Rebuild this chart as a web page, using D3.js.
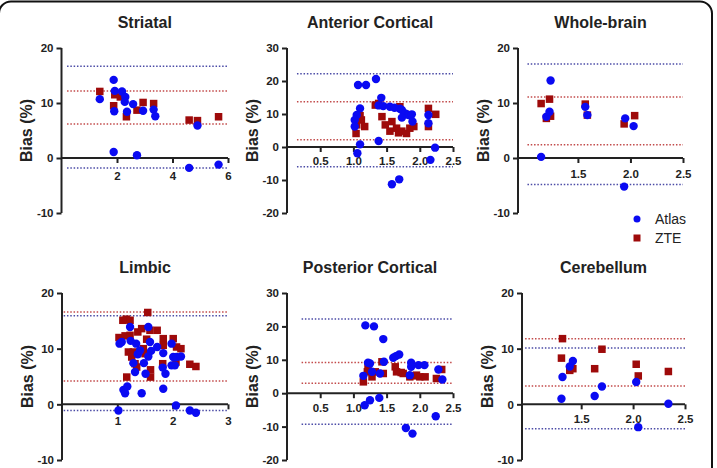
<!DOCTYPE html>
<html>
<head>
  <meta charset="utf-8">
  <script src="https://cdnjs.cloudflare.com/ajax/libs/d3/7.8.5/d3.min.js"></script>
  <style>
    body { margin: 0; background: #fff; }
    text { font-family: "Liberation Sans", Arial, sans-serif; }
  </style>
</head>
<body>
  <div id="chart"></div>

  <script>
    // values: [mean, bias %]
    const striatalAtlas = [[1.38,10.7],[1.88,14.2],[1.92,12.2],[1.9,8.5],[1.88,1.1],[2.18,12.1],[2.3,11.1],[2.28,10.2],[2.36,8.4],[2.58,9.8],[2.94,8.6],[2.72,0.5],[3.32,8.8],[3.38,7.6],[4.6,-1.8],[4.9,5.9],[5.66,-1.2]];
    const striatalZte = [[1.38,12.1],[1.88,9.5],[1.92,11.5],[2.12,11.1],[2.34,7.5],[2.72,8.7],[2.94,10.1],[3.32,9.9],[4.6,6.9],[4.9,6.8],[5.66,7.5]];

    const anteriorAtlas = [[1.07,18.8],[1.19,18.8],[1.34,20.6],[1.42,14.9],[1.10,11.7],[1.05,9.7],[1.02,8.2],[1.02,6.2],[1.38,1.8],[1.10,0.8],[1.06,-1.9],[1.38,12.6],[1.45,12.4],[1.55,12.2],[1.62,11.9],[1.7,11.6],[1.73,11.2],[1.78,10.2],[1.83,9.7],[1.88,9.9],[1.73,8.9],[1.89,7.7],[2.13,9.7],[2.13,7.2],[2.23,-0.2],[1.58,-11.3],[1.69,-9.8],[2.16,-3.9]];
    const anteriorZte = [[1.04,4.1],[1.05,6.7],[1.12,8.2],[1.17,6.2],[1.1,9.5],[1.33,12.7],[1.38,13.2],[1.43,9.2],[1.48,6.7],[1.55,4.8],[1.58,7.7],[1.65,5.7],[1.68,4.3],[1.73,4.8],[1.8,4.1],[1.85,5.7],[1.91,6.2],[1.7,12.2],[1.78,9.9],[2.13,11.7],[2.13,6.2],[2.24,9.9]];

    const wholeAtlas = [[1.15,0.2],[1.20,7.5],[1.23,8.4],[1.24,14.1],[1.57,9.3],[1.59,7.8],[1.94,-5.2],[1.95,7.2],[2.03,5.8]];
    const wholeZte = [[1.15,9.9],[1.20,7.2],[1.23,10.7],[1.24,7.6],[1.57,9.8],[1.59,7.8],[1.94,6.2],[2.04,7.7]];

    const limbicAtlas = [[1.02,-1.1],[1.04,10.9],[1.08,11.2],[1.11,2.6],[1.14,2.0],[1.18,3.2],[1.23,13.9],[1.24,11.4],[1.29,7.4],[1.32,5.8],[1.34,10.9],[1.37,9.0],[1.41,9.7],[1.44,2.0],[1.48,7.4],[1.51,5.5],[1.56,8.6],[1.56,13.9],[1.59,11.2],[1.61,9.6],[1.72,10.3],[1.83,9.2],[1.82,6.6],[1.83,2.8],[1.87,5.5],[1.98,10.9],[1.98,7.0],[2.01,8.5],[2.04,7.0],[2.07,8.5],[2.15,8.6],[2.06,-0.2],[2.31,-1.1],[2.42,-1.5]];
    const limbicZte = [[1.03,12.0],[1.10,15.1],[1.16,15.3],[1.23,15.1],[1.14,12.3],[1.23,12.4],[1.17,4.9],[1.2,9.4],[1.26,8.5],[1.29,9.4],[1.32,7.3],[1.35,6.7],[1.37,13.0],[1.44,13.6],[1.47,10.0],[1.50,9.1],[1.53,11.7],[1.55,16.5],[1.59,13.3],[1.60,6.2],[1.60,4.9],[1.72,13.3],[1.83,11.8],[1.83,10.6],[1.82,7.3],[2.01,11.8],[2.07,10.3],[2.15,10.0],[2.06,7.6],[2.31,7.2],[2.42,6.8]];

    const posteriorAtlas = [[1.15,5.2],[1.18,20.3],[1.31,20.0],[1.45,16.2],[1.22,9.1],[1.25,8.9],[1.28,6.4],[1.40,5.9],[1.46,9.4],[1.60,10.6],[1.64,11.1],[1.69,11.6],[1.87,9.1],[1.87,7.9],[1.85,5.4],[1.98,8.4],[2.07,8.4],[2.28,7.1],[2.34,4.1],[1.17,-3.6],[1.25,-2.1],[1.39,-1.4],[1.79,-10.4],[1.89,-12.1],[2.24,-6.9]];
    const posteriorZte = [[1.15,3.4],[1.21,6.4],[1.22,8.4],[1.28,4.9],[1.33,6.4],[1.43,9.4],[1.45,5.9],[1.63,7.9],[1.65,6.4],[1.72,6.2],[1.75,5.9],[1.85,4.9],[1.9,5.2],[1.95,5.4],[2.0,4.9],[2.08,4.9],[2.25,4.4],[2.33,7.1]];

    const cerebellumAtlas = [[1.31,1.0],[1.32,4.9],[1.39,6.8],[1.42,7.8],[1.63,1.5],[1.70,3.2],[2.03,4.0],[2.05,-4.1],[2.34,0.1]];
    const cerebellumZte = [[1.32,11.8],[1.31,8.3],[1.39,6.1],[1.42,6.4],[1.70,9.9],[1.63,6.4],[2.03,7.2],[2.05,5.1],[2.34,5.9]];

    // limits of agreement [upper, lower]
    const striatalLoA = { atlas: [16.7, -1.8], zte: [12.2, 6.2] };
    const anteriorLoA = { atlas: [22.2, -6.0], zte: [13.7, 2.2] };
    const wholeLoA = { atlas: [17.1, -4.8], zte: [11.1, 2.4] };
    const limbicLoA = { atlas: [15.9, -1.1], zte: [16.6, 4.2] };
    const posteriorLoA = { atlas: [22.2, -9.3], zte: [9.2, 3.0] };
    const cerebellumLoA = { atlas: [10.1, -4.4], zte: [11.8, 3.3] };

    const yTicksNarrow = [-10, 0, 10, 20];
    const yTicksWide = [-20, -10, 0, 10, 20, 30];
    const xTicksStriatal = [2, 4, 6];
    const xTicksLimbic = [1, 2, 3];
    const xTicksCortical = [0.5, 1, 1.5, 2, 2.5];
    const xTicksRegion = [1.5, 2, 2.5];

    const seriesNames = ['Atlas', 'ZTE'];

    const BLUE = '#0a0af2';
    const RED = '#9e0a0a';
    const BLUE_LINE = '#4b4ba6';
    const RED_LINE = '#c24a4a';

    const width = 717;
    const height = 468;

    const panels = [
      { title: 'Striatal', atlas: striatalAtlas, zte: striatalZte, loa: striatalLoA,
        xDomain: [0, 6], yDomain: [-10, 20], xTicks: xTicksStriatal, yTicks: yTicksNarrow, fmt: 'd',
        box: [61.5, 228, 48, 213], lineFrom: 0.2, pad: 9 },
      { title: 'Anterior Cortical', atlas: anteriorAtlas, zte: anteriorZte, loa: anteriorLoA,
        xDomain: [0, 2.5], yDomain: [-20, 30], xTicks: xTicksCortical, yTicks: yTicksWide, fmt: '.1f',
        box: [287, 453, 48, 213], lineFrom: 0.15, pad: 5 },
      { title: 'Whole-brain', atlas: wholeAtlas, zte: wholeZte, loa: wholeLoA,
        xDomain: [0.93, 2.5], yDomain: [-10, 20], xTicks: xTicksRegion, yTicks: yTicksNarrow, fmt: '.1f',
        box: [518, 683, 48, 213], lineFrom: 1.02, pad: 7 },
      { title: 'Limbic', atlas: limbicAtlas, zte: limbicZte, loa: limbicLoA,
        xDomain: [0, 3], yDomain: [-10, 20], xTicks: xTicksLimbic, yTicks: yTicksNarrow, fmt: 'd',
        box: [62, 228, 293, 460], lineFrom: 0.03, pad: 8 },
      { title: 'Posterior Cortical', atlas: posteriorAtlas, zte: posteriorZte, loa: posteriorLoA,
        xDomain: [0, 2.5], yDomain: [-20, 30], xTicks: xTicksCortical, yTicks: yTicksWide, fmt: '.1f',
        box: [287, 453, 293, 460], lineFrom: 0.22, pad: 6 },
      { title: 'Cerebellum', atlas: cerebellumAtlas, zte: cerebellumZte, loa: cerebellumLoA,
        xDomain: [0.93, 2.5], yDomain: [-10, 20], xTicks: xTicksRegion, yTicks: yTicksNarrow, fmt: '.1f',
        box: [522, 685, 293, 460], lineFrom: 0.96, pad: 6 }
    ];

    const svg = d3.select('#chart').append('svg')
      .attr('width', width)
      .attr('height', height);

    svg.append('rect')
      .attr('width', width).attr('height', height)
      .attr('fill', '#fff');

    // frame round the figure (bottom is cut off)
    svg.append('rect')
      .attr('x', -1).attr('y', 1.5)
      .attr('width', 713).attr('height', 520)
      .attr('rx', 12)
      .attr('fill', 'none')
      .attr('stroke', '#111')
      .attr('stroke-width', 2);

    panels.forEach(p => {
      const [left, right, top, bottom] = p.box;
      const x = d3.scaleLinear().domain(p.xDomain).range([left, right]);
      const y = d3.scaleLinear().domain(p.yDomain).range([bottom, top]);
      const g = svg.append('g');

      // limits of agreement
      [['zte', RED_LINE], ['atlas', BLUE_LINE]].forEach(([key, col]) => {
        p.loa[key].forEach(v => {
          g.append('line')
            .attr('x1', x(p.lineFrom)).attr('x2', x(p.xDomain[1]))
            .attr('y1', y(v)).attr('y2', y(v))
            .attr('stroke', col)
            .attr('stroke-width', 1.5)
            .attr('stroke-dasharray', '1.5,1.8');
        });
      });

      // y axis (plain hyphen on negatives, as in the figure)
      const yAxis = g.append('g')
        .attr('transform', `translate(${left},0)`)
        .call(d3.axisLeft(y).tickValues(p.yTicks).tickSize(5).tickPadding(3).tickFormat(d => String(d)));

      // x axis at zero
      const xAxis = g.append('g')
        .attr('transform', `translate(0,${y(0)})`)
        .call(d3.axisBottom(x).tickValues(p.xTicks).tickSize(5).tickPadding(p.pad).tickFormat(d3.format(p.fmt)));

      [yAxis, xAxis].forEach(a => {
        a.select('.domain').attr('stroke', '#222').attr('stroke-width', 2);
        a.selectAll('.tick line').attr('stroke', '#222').attr('stroke-width', 2);
        a.selectAll('.tick text')
          .attr('fill', '#222')
          .style('font-size', '11.5px')
          .style('font-weight', 'bold');
      });
      // plain axis lines, no outer ticks
      yAxis.select('.domain').attr('d', `M0,${bottom}V${top}`);
      xAxis.select('.domain').attr('d', `M${left},0H${right}`);

      // points: ZTE squares beneath Atlas circles
      const s = 7.5;
      g.selectAll('rect.zte').data(p.zte).enter().append('rect')
        .attr('class', 'zte')
        .attr('x', d => x(d[0]) - s / 2)
        .attr('y', d => y(d[1]) - s / 2)
        .attr('width', s).attr('height', s)
        .attr('fill', RED);

      g.selectAll('circle.atlas').data(p.atlas).enter().append('circle')
        .attr('class', 'atlas')
        .attr('cx', d => x(d[0]))
        .attr('cy', d => y(d[1]))
        .attr('r', 4.2)
        .attr('fill', BLUE);

      // title
      g.append('text')
        .attr('x', (left + right) / 2)
        .attr('y', top - 20)
        .attr('text-anchor', 'middle')
        .style('font-size', '16px')
        .style('font-weight', 'bold')
        .attr('fill', '#222')
        .text(p.title);

      // y label
      g.append('text')
        .attr('transform', `translate(${left - 35},${(top + bottom) / 2}) rotate(-90)`)
        .attr('text-anchor', 'middle')
        .attr('dy', '0.35em')
        .style('font-size', '16px')
        .style('font-weight', 'bold')
        .attr('fill', '#222')
        .text('Bias (%)');
    });

    // legend
    const legend = svg.append('g').attr('transform', 'translate(637,219)');
    seriesNames.forEach((name, i) => {
      const row = legend.append('g').attr('transform', `translate(0,${i * 19})`);
      if (i === 0) {
        row.append('circle').attr('r', 3.5).attr('fill', BLUE);
      } else {
        row.append('rect').attr('x', -3.5).attr('y', -3.5).attr('width', 7).attr('height', 7).attr('fill', RED);
      }
      row.append('text')
        .attr('x', 18)
        .attr('dy', '0.35em')
        .style('font-size', '14px')
        .attr('fill', '#222')
        .text(name);
    });
  </script>
</body>
</html>
